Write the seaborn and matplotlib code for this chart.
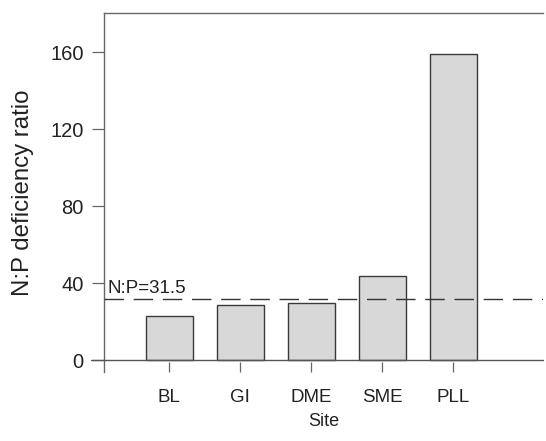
import numpy as np
import pandas as pd
import matplotlib
matplotlib.use('Agg')
import matplotlib.pyplot as plt
import seaborn as sns

# values
sites = ['BL', 'GI', 'DME', 'SME', 'PLL']
np_ratio = [22.8, 28.6, 29.4, 43.6, 159.0]
threshold = 31.5
yticks = [0, 40, 80, 120, 160]

df = pd.DataFrame({'Site': sites, 'ratio': np_ratio})

sns.set_style('ticks')
plt.rcParams['font.family'] = ['Liberation Sans', 'DejaVu Sans']

fig = plt.figure(figsize=(5.46, 4.41), dpi=100)
ax = fig.add_axes([0.1905, 0.1565, 0.804, 0.814])

sns.barplot(data=df, x='Site', y='ratio', order=sites, color='#d8d8d8',
            saturation=1, width=0.66, edgecolor='#3a3a3a', linewidth=1.0, ax=ax)

ax.axhline(0, color='#555555', lw=1.0, zorder=3, clip_on=False, xmin=-0.03)
ax.axhline(threshold, color='#333333', lw=1.0, ls=(0, (14, 7)), zorder=4)
ax.text(-0.87, threshold + 1.2, 'N:P=31.5', fontsize=13.5, color='#222222',
        ha='left', va='bottom')

ax.set_xlim(-0.92, 5.26)
ax.set_ylim(-6.2, 180.3)
ax.set_yticks(yticks)

for side in ['bottom', 'right']:
    ax.spines[side].set_visible(False)
for side in ['left', 'top']:
    ax.spines[side].set_color('#666666')
    ax.spines[side].set_linewidth(1.0)

ax.tick_params(axis='y', direction='out', length=8.5, width=0.9, color='#666666',
               pad=6, labelsize=14.5, labelcolor='#222222')
ax.tick_params(axis='x', direction='in', length=7.5, width=0.9, color='#666666',
               pad=12, labelsize=13.5, labelcolor='#222222')

ax.set_xlabel('Site', fontsize=13, color='#222222', labelpad=5)
ax.set_ylabel('N:P deficiency ratio', fontsize=17.3, color='#222222', labelpad=12)

fig.savefig('out.png', dpi=100)
